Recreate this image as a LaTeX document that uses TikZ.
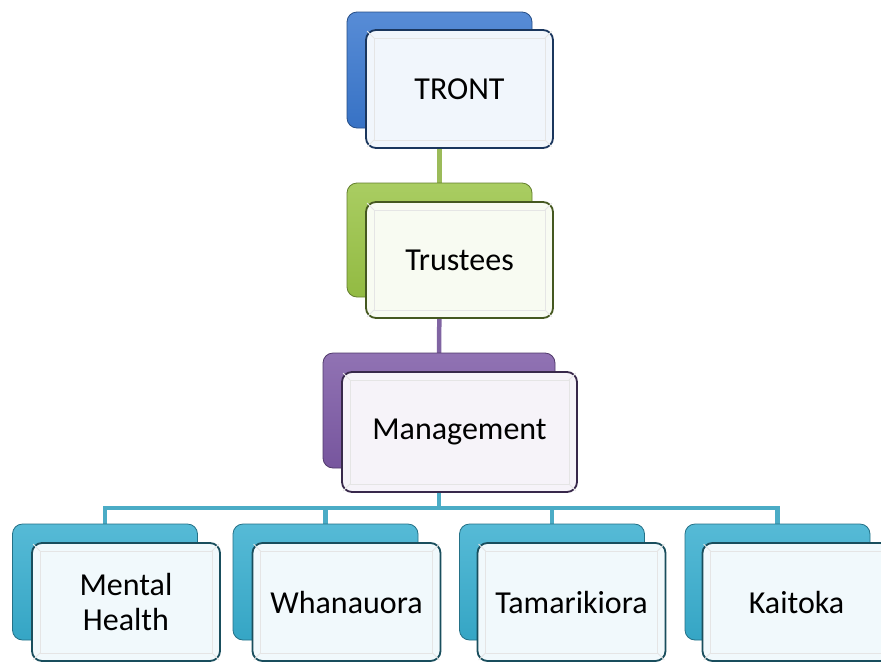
\documentclass[tikz,border=0pt]{standalone}
\usepackage{fontspec}
\setmainfont{Carlito}
\usetikzlibrary{backgrounds}
\definecolor{cblue}{HTML}{3A78CF}
\definecolor{cgreen}{HTML}{9AC446}
\definecolor{cpurple}{HTML}{7D5AA6}
\definecolor{cteal}{HTML}{38AECF}
\definecolor{lgreen}{HTML}{9BBB59}
\definecolor{lpurple}{HTML}{8064A2}
\definecolor{lteal}{HTML}{4BACC6}
\begin{document}
\begin{tikzpicture}[x=1pt,y=-1pt,
  backbox/.style={rounded corners=10pt, draw=#1!65!black, line width=0.8pt,
    top color=#1!85!white, bottom color=#1!95!black,
    minimum width=185pt, minimum height=116pt, inner sep=0pt},
  frontbox/.style={rounded corners=10pt, draw=#1!45!black, line width=1.8pt,
    fill=#1!7!white,
    minimum width=188pt, minimum height=118pt, inner sep=0pt, align=center,
    font=\fontsize{32}{35}\selectfont},
  bevel/.style={draw=white!80!gray, line width=0.8pt},
  conn/.style={draw=#1, line width=4.5pt}]
\useasboundingbox (0,0) rectangle (881,662);

% level 1
\node[backbox=cblue] (trontb) at (439.5,70) {};
\node[frontbox=cblue, minimum width=187pt] (tront) at (459.5,89) {TRONT};
% level 2
\node[backbox=cgreen, minimum height=114pt] (trusteesb) at (439.5,240) {};
\node[frontbox=cgreen, minimum width=187pt, minimum height=116pt] (trustees) at (459.5,260) {Trustees};
% level 3
\node[backbox=cpurple, minimum width=232pt, minimum height=115pt] (mgmtb) at (439,410.5) {};
\node[frontbox=cpurple, minimum width=235pt, minimum height=120pt] (mgmt) at (459.5,432) {Management};
% level 4
\node[backbox=cteal] (mentalb) at (105,582) {};
\node[frontbox=cteal] (mental) at (126,602) {Mental\\Health};
\node[backbox=cteal] (whanaub) at (325.5,582) {};
\node[frontbox=cteal] (whanau) at (346.5,602) {Whanauora};
\node[backbox=cteal] (tamarb) at (552,582) {};
\node[frontbox=cteal] (tamar) at (571.5,602) {Tamarikiora};
\node[backbox=cteal] (kaitb) at (777.5,582) {};
\node[frontbox=cteal] (kait) at (796.5,602) {Kaitoka};

% bevels
\foreach \n in {tront,trustees,mgmt,mental,whanau,tamar,kait}{
  \draw[bevel] ([shift={(9,9)}]\n.north west) rectangle ([shift={(-9,-9)}]\n.south east);
  \draw[bevel] ([shift={(2,2)}]\n.north west) -- ([shift={(9,9)}]\n.north west);
  \draw[bevel] ([shift={(-2,2)}]\n.north east) -- ([shift={(-9,9)}]\n.north east);
  \draw[bevel] ([shift={(2,-2)}]\n.south west) -- ([shift={(9,-9)}]\n.south west);
  \draw[bevel] ([shift={(-2,-2)}]\n.south east) -- ([shift={(-9,-9)}]\n.south east);
}

\coordinate (bus) at (439,508);
\begin{scope}[on background layer]
\fill[white] (0,0) rectangle (881,662);
\draw[conn=lgreen] (trontb.center) -- (trusteesb.center);
\draw[conn=lpurple] (trusteesb.center) -- (mgmtb.center);
\foreach \c in {mentalb,whanaub,tamarb,kaitb}{
  \draw[conn=lteal, line join=miter] (mgmtb.center) -- (mgmtb.center |- bus) -| (\c.center);
}
\end{scope}
\end{tikzpicture}
\end{document}
